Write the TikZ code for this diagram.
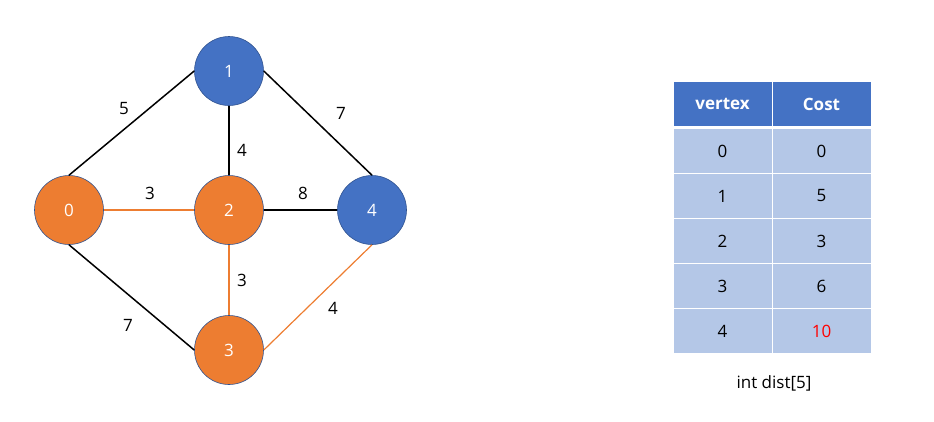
\documentclass[tikz,border=0pt]{standalone}
\usepackage{fontspec}
\setmainfont{Open Sans}
\usepackage{tikz}
\usetikzlibrary{positioning}
\usepackage{xcolor}
\definecolor{gorange}{HTML}{ED7D31}
\definecolor{gblue}{HTML}{4472C4}
\definecolor{gline}{HTML}{2F528F}
\definecolor{gcell}{HTML}{B4C7E7}
\definecolor{gred}{HTML}{FF0000}
\tikzstyle{vtxorange} = [circle, minimum size=69pt, inner sep=0pt, draw=gline, line width=0.6pt, fill=gorange, text=white]
\tikzstyle{vtxblue} = [circle, minimum size=69pt, inner sep=0pt, draw=gline, line width=0.6pt, fill=gblue, text=white]
\tikzstyle{edgeblack} = [line width=1.5pt, color=black]
\tikzstyle{edgeorange} = [line width=1.2pt, color=gorange]
\tikzstyle{weight} = [inner sep=0pt]
\tikzstyle{headcell} = [rectangle, minimum width=99pt, minimum height=45pt, inner sep=0pt, draw=white, line width=1pt, fill=gblue, text=white, font={\fontsize{17}{20}\selectfont\bfseries}]
\tikzstyle{bodycell} = [rectangle, minimum width=99pt, minimum height=45pt, inner sep=0pt, draw=white, line width=1pt, fill=gcell]

\begin{document}
\begin{tikzpicture}[x=1pt, y=-1pt, font=\fontsize{17}{20}\selectfont]
\useasboundingbox (0,0) rectangle (934,421);

% Graph vertices
\node[vtxorange] (v0) at (69,210) {0};
\node[vtxblue] (v1) at (229,71) {1};
\node[vtxorange] (v2) at (229,210) {2};
\node[vtxorange] (v3) at (229,350) {3};
\node[vtxblue] (v4) at (372,210) {4};

% Edges
\draw[edgeblack] (v0.north) -- (v1.west);
\draw[edgeblack] (v1.east) -- (v4.north);
\draw[edgeblack] (v1.south) -- (v2.north);
\draw[edgeblack] (v2.east) -- (v4.west);
\draw[edgeblack] (v0.south) -- (v3.west);
\draw[edgeorange] (v0.east) -- (v2.west);
\draw[edgeorange] (v2.south) -- (v3.north);
\draw[edgeorange] (v3.east) -- (v4.south);

% Edge weights
\node[weight] (w01) at (124,109) {5};
\node[weight] (w14) at (341,113) {7};
\node[weight] (w12) at (242,150) {4};
\node[weight] (w02) at (150,193) {3};
\node[weight] (w24) at (303,193) {8};
\node[weight] (w23) at (242,280) {3};
\node[weight] (w03) at (128,325) {7};
\node[weight] (w34) at (333,308) {4};

% Distance table
\node[headcell] (hvert) at (722.5,104) {vertex};
\node[headcell] (hcost) at (821.5,104) {Cost};
\node[bodycell] (r0v) at (722.5,151) {0};
\node[bodycell] (r0c) at (821.5,151) {0};
\node[bodycell] (r1v) at (722.5,196) {1};
\node[bodycell] (r1c) at (821.5,196) {5};
\node[bodycell] (r2v) at (722.5,241) {2};
\node[bodycell] (r2c) at (821.5,241) {3};
\node[bodycell] (r3v) at (722.5,286) {3};
\node[bodycell] (r3c) at (821.5,286) {6};
\node[bodycell] (r4v) at (722.5,331) {4};
\node[bodycell, text=gred] (r4c) at (821.5,331) {10};

% Caption
\node (caption) at (774,383) {int dist[5]};
\end{tikzpicture}
\end{document}
